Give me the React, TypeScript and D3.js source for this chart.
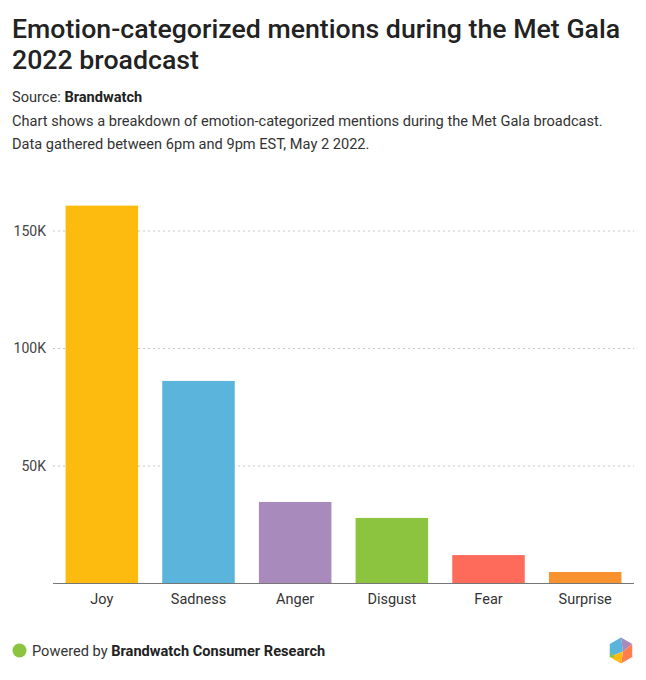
import React from "react";
import * as d3 from "d3";

const categories = ["Joy", "Sadness", "Anger", "Disgust", "Fear", "Surprise"];
const mentions = [160800, 86200, 34700, 27900, 12100, 4900];
const barColors = ["#FDBB0F", "#5AB4DC", "#A98ABD", "#8CC43F", "#FF6B5A", "#F7922E"];
const yTicks = [50000, 100000, 150000];
const yTickLabels = ["50K", "100K", "150K"];

const W = 646;
const H = 680;
const FONT = "Roboto, 'Noto Sans', sans-serif";

export default function App() {
  const x = d3
    .scaleBand<string>()
    .domain(categories)
    .range([53, 634])
    .paddingInner(0.25)
    .paddingOuter(0.13);
  const y = d3.scaleLinear().domain([0, 50000]).range([583.5, 466]);

  const hexR = 13;
  const cx = 621;
  const cy = 650.5;
  const pts = d3.range(6).map((i) => {
    const a = (Math.PI / 3) * i - Math.PI / 2;
    return [cx + hexR * Math.cos(a), cy + hexR * Math.sin(a)] as [number, number];
  });
  const c: [number, number] = [cx + 2, cy + 1];
  const poly = (arr: [number, number][]) => arr.map((p) => p.join(",")).join(" ");

  return (
    <svg width={W} height={H} style={{ display: "block", position: "absolute", left: 0, top: 0 }} fontFamily={FONT}>
      <rect width={W} height={H} fill="#fff" />
      <text x={12} y={38} fontSize={26.7} fontWeight={500} fill="#222">
        Emotion-categorized mentions during the Met Gala
      </text>
      <text x={12} y={69} fontSize={26.7} fontWeight={500} fill="#222">
        2022 broadcast
      </text>
      <text x={12} y={102} fontSize={14.6} fill="#333">
        Source: <tspan fontWeight={700} fill="#222">Brandwatch</tspan>
      </text>
      <text x={12} y={125.5} fontSize={14.6} fill="#333">
        Chart shows a breakdown of emotion-categorized mentions during the Met Gala broadcast.
      </text>
      <text x={12} y={148.5} fontSize={14.6} fill="#333">
        Data gathered between 6pm and 9pm EST, May 2 2022.
      </text>

      {yTicks.map((t, i) => (
        <g key={t}>
          <line
            x1={53}
            x2={634}
            y1={y(t)}
            y2={y(t)}
            stroke="#c8c8c8"
            strokeWidth={1}
            strokeDasharray="2,3"
          />
          <text x={46} y={y(t)} dy="0.35em" textAnchor="end" fontSize={14} fill="#444">
            {yTickLabels[i]}
          </text>
        </g>
      ))}

      {categories.map((cat, i) => (
        <rect
          key={cat}
          x={x(cat)}
          width={x.bandwidth()}
          y={y(mentions[i])}
          height={y(0) - y(mentions[i])}
          fill={barColors[i]}
        />
      ))}

      <line x1={53} x2={634} y1={y(0)} y2={y(0)} stroke="#777" strokeWidth={1.2} />

      {categories.map((cat) => (
        <text
          key={cat}
          x={(x(cat) as number) + x.bandwidth() / 2}
          y={604}
          textAnchor="middle"
          fontSize={14.5}
          fill="#333"
        >
          {cat}
        </text>
      ))}

      <circle cx={19.5} cy={650.5} r={7} fill="#8CC43F" />
      <text x={32} y={655.5} fontSize={14.6} fill="#333">
        Powered by <tspan fontWeight={700} fill="#222">Brandwatch Consumer Research</tspan>
      </text>

      <g>
        <polygon points={poly([pts[5], pts[0], c, pts[4]])} fill="#5AB4DC" />
        <polygon points={poly([pts[0], pts[1], c])} fill="#A98ABD" />
        <polygon points={poly([pts[1], pts[2], pts[3], c])} fill="#FF7F50" />
        <polygon points={poly([c, pts[3], pts[4]])} fill="#FDBB0F" />
        <polygon points={poly([pts[4], [cx - 6, cy + 7] as [number, number], [cx - 9, cy + 2] as [number, number]])} fill="#8CC43F" />
      </g>
    </svg>
  );
}
